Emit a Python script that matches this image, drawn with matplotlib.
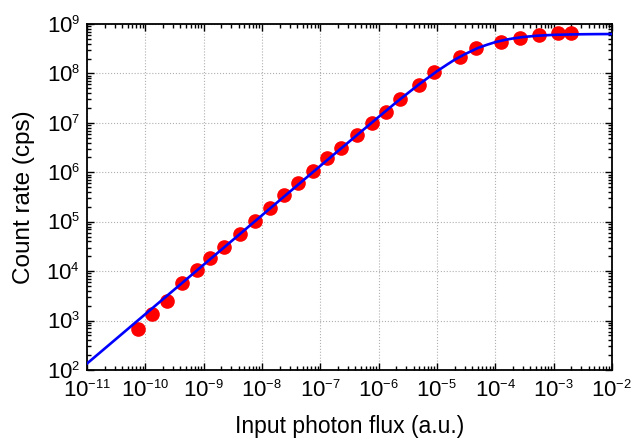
import math
import matplotlib
matplotlib.use("Agg")
import matplotlib.pyplot as plt
import matplotlib._mathtext as _mt
from matplotlib.ticker import LogLocator, FuncFormatter, NullFormatter

_mt.SHRINK_FACTOR = 0.58

plt.rcParams['font.family'] = ['Liberation Sans', 'DejaVu Sans']
plt.rcParams['mathtext.fontset'] = 'custom'
plt.rcParams['mathtext.rm'] = 'Liberation Sans'
plt.rcParams['mathtext.it'] = 'Liberation Sans'
plt.rcParams['mathtext.bf'] = 'Liberation Sans'

# measured data points
flux_pts = [7.5e-11, 1.3e-10, 2.35e-10, 4.3e-10, 7.8e-10, 1.3e-9, 2.25e-9, 4.2e-9,
            7.6e-9, 1.38e-8, 2.4e-8, 4.2e-8, 7.6e-8, 1.32e-7, 2.3e-7, 4.3e-7,
            7.8e-7, 1.35e-6, 2.35e-6, 4.9e-6, 8.9e-6, 2.5e-5, 4.6e-5, 1.26e-4,
            2.7e-4, 5.6e-4, 1.2e-3, 2.0e-3]
rate_pts = [6.8e2, 1.36e3, 2.5e3, 5.8e3, 1.05e4, 1.85e4, 3.1e4, 5.7e4,
            1.04e5, 1.9e5, 3.5e5, 6.1e5, 1.07e6, 1.95e6, 3.1e6, 5.7e6,
            1.0e7, 1.66e7, 3.1e7, 5.9e7, 1.07e8, 2.2e8, 3.2e8, 4.4e8,
            5.3e8, 6.0e8, 6.5e8, 6.6e8]

# fitted curve
flux_fit = [1e-11, 1e-10, 1e-9, 1e-8, 1e-7, 1e-6, 2e-6, 3e-6, 5e-6, 1e-5, 1.5e-5,
            2e-5, 3e-5, 5e-5, 7e-5, 1e-4, 1.5e-4, 2e-4, 3e-4, 5e-4, 7e-4, 1e-3,
            2e-3, 3e-3, 5e-3, 1e-2]
rate_fit = [1.35e2, 1.35e3, 1.35e4, 1.35e5, 1.35e6, 1.32e7, 2.6e7, 3.8e7, 6.1e7,
            1.11e8, 1.52e8, 1.89e8, 2.45e8, 3.26e8, 3.76e8, 4.3e8, 4.8e8, 5.1e8,
            5.45e8, 5.77e8, 5.9e8, 6.03e8, 6.15e8, 6.2e8, 6.24e8, 6.27e8]

xlabel = 'Input photon flux (a.u.)'
ylabel = 'Count rate (cps)'

fig = plt.figure(figsize=(6.32, 4.38), dpi=100)
ax = fig.add_axes([87/632, 68/438, 525/632, 346/438])

ax.plot(flux_pts, rate_pts, 'o', color=(1, 0, 0), markersize=9.5, zorder=3)
ax.plot(flux_fit, rate_fit, '-', color=(0, 0, 1), linewidth=1.9, zorder=4)

ax.set_xscale('log')
ax.set_yscale('log')
ax.set_xlim(1e-11, 1e-2)
ax.set_ylim(1e2, 1e9)

def fmt(v, pos):
    e = int(round(math.log10(v)))
    return r'$\mathregular{10^{%d}}$' % e

ax.xaxis.set_major_locator(LogLocator(base=10, numticks=20))
ax.yaxis.set_major_locator(LogLocator(base=10, numticks=20))
ax.xaxis.set_minor_locator(LogLocator(base=10, subs=range(2, 10), numticks=20))
ax.yaxis.set_minor_locator(LogLocator(base=10, subs=range(2, 10), numticks=20))
ax.xaxis.set_major_formatter(FuncFormatter(fmt))
ax.yaxis.set_major_formatter(FuncFormatter(fmt))
ax.xaxis.set_minor_formatter(NullFormatter())
ax.yaxis.set_minor_formatter(NullFormatter())

ax.tick_params(which='both', direction='in', top=True, right=True, labelsize=16, width=1)
ax.tick_params(which='major', length=5)
ax.tick_params(axis='x', which='major', pad=7)
ax.tick_params(axis='y', which='major', pad=5)
ax.tick_params(which='minor', length=3)
for s in ax.spines.values():
    s.set_linewidth(1.3)

ax.grid(True, which='major', linestyle=':', color='#b0b0b0', linewidth=0.8)
ax.set_axisbelow(True)

ax.set_xlabel(xlabel, fontsize=16.5, labelpad=10)
ax.set_ylabel(ylabel, fontsize=17.5, labelpad=8)

fig.savefig('out.png', dpi=100)
